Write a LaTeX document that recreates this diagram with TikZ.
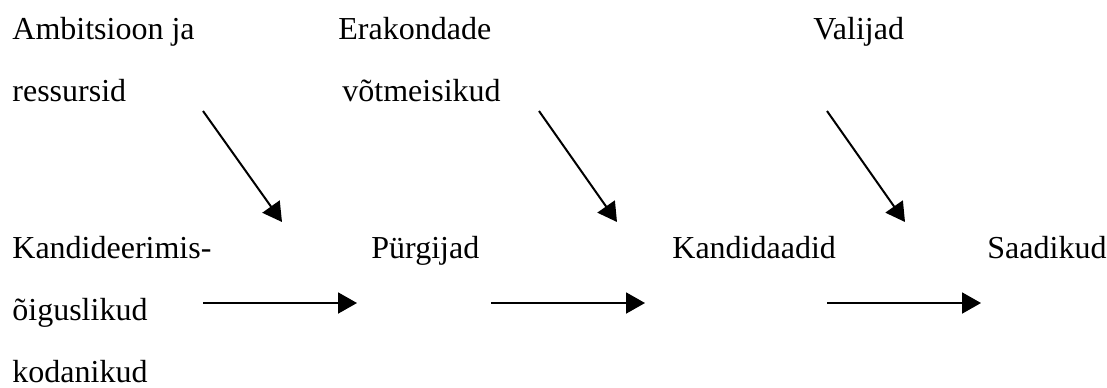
\documentclass[tikz,border=0pt]{standalone}
\usepackage{fontspec}
\setmainfont{Liberation Serif}
\usepackage{tikz}
\usetikzlibrary{arrows.meta,positioning,calc}

\begin{document}
\begin{tikzpicture}[
    x=0.5pt, y=-0.5pt,
    lbl/.style={anchor=base west, inner sep=0pt, font=\fontsize{16}{19}\selectfont},
    arrow/.style={-{Triangle[length=9.5pt, width=10.5pt]}, line width=1pt}
]
    \useasboundingbox (0,0) rectangle (1107,387);

    % Influences (top row)
    \node[lbl] (amb1) at (12,39) {Ambitsioon ja};
    \node[lbl] (amb2) at (12,101) {ressursid};
    \node[lbl] (era1) at (338,39) {Erakondade};
    \node[lbl] (era2) at (342,101) {võtmeisikud};
    \node[lbl] (val) at (813,39) {Valijad};

    % Stages (bottom row)
    \node[lbl] (kod1) at (12,258) {Kandideerimis-};
    \node[lbl] (kod2) at (12,320) {õiguslikud};
    \node[lbl] (kod3) at (12,382) {kodanikud};
    \node[lbl] (pyr) at (371,258) {Pürgijad};
    \node[lbl] (kand) at (672,258) {Kandidaadid};
    \node[lbl] (saad) at (987,258) {Saadikud};

    % Arrow end points
    \coordinate (d1s) at (203,111);
    \coordinate (d1e) at (282,222);
    \coordinate (d2s) at (539,111);
    \coordinate (d2e) at (617,222);
    \coordinate (d3s) at (827,111);
    \coordinate (d3e) at (905,222);
    \coordinate (h1s) at (203,303);
    \coordinate (h1e) at (357,303);
    \coordinate (h2s) at (491,303);
    \coordinate (h2e) at (645,303);
    \coordinate (h3s) at (827,303);
    \coordinate (h3e) at (981,303);

    % Diagonal arrows
    \draw[arrow] (d1s) -- (d1e);
    \draw[arrow] (d2s) -- (d2e);
    \draw[arrow] (d3s) -- (d3e);

    % Horizontal arrows
    \draw[arrow] (h1s) -- (h1e);
    \draw[arrow] (h2s) -- (h2e);
    \draw[arrow] (h3s) -- (h3e);
\end{tikzpicture}
\end{document}
